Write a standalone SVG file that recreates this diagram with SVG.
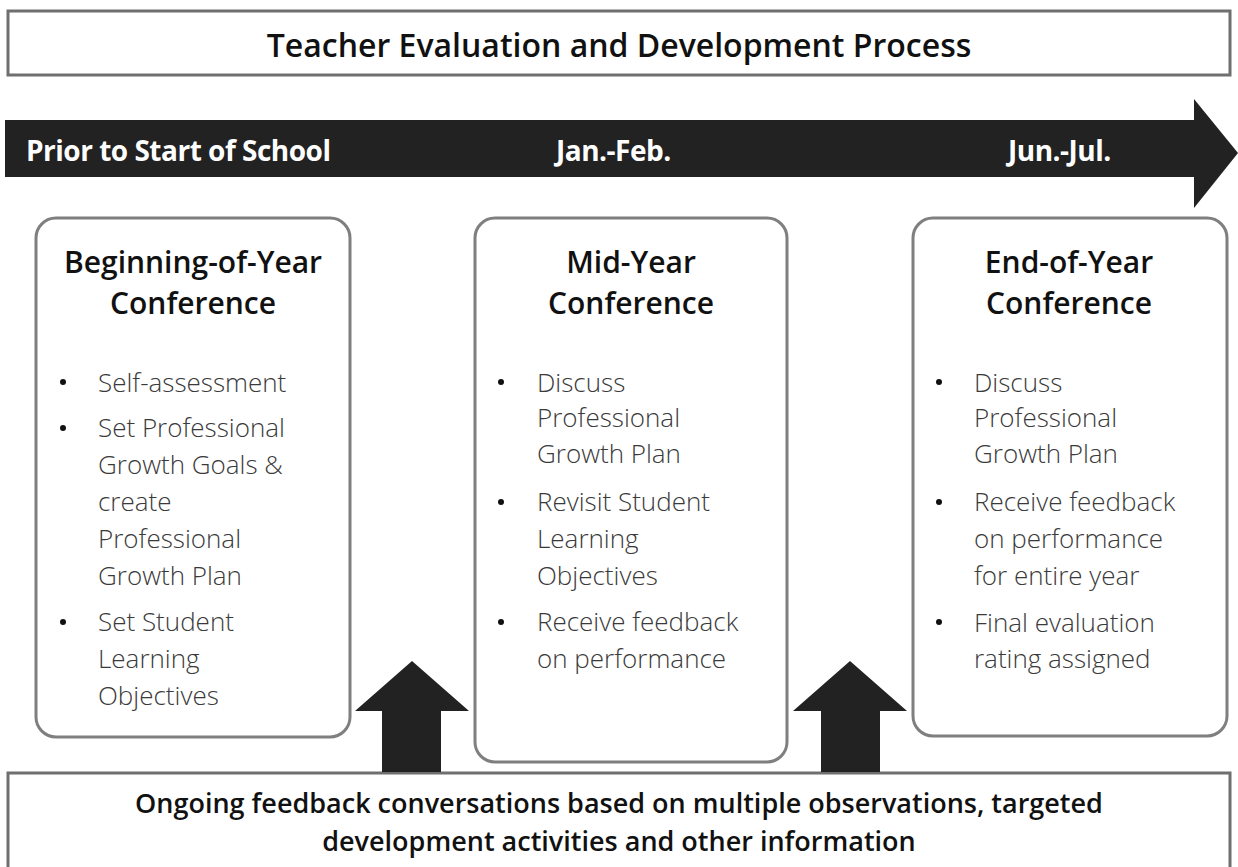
<svg xmlns="http://www.w3.org/2000/svg" width="1238" height="867" viewBox="0 0 1238 867">
<style>
.box{fill:#fff;stroke:#7f7f7f;stroke-width:3}
.frame{fill:#fff;stroke:#6f6f6f;stroke-width:3}
.title{font-family:"Open Sans","Liberation Sans",sans-serif;font-weight:600;font-size:32px;fill:#111;text-anchor:middle}
.head{font-family:"Open Sans","Liberation Sans",sans-serif;font-weight:600;font-size:30px;fill:#111;text-anchor:middle}
.foot{font-family:"Open Sans","Liberation Sans",sans-serif;font-weight:600;font-size:27px;fill:#111;text-anchor:middle}
.item{font-family:"Open Sans","Liberation Sans",sans-serif;font-weight:300;font-size:26px;fill:#3a3a3a}
.bul{fill:#111}
.tl{font-family:"Open Sans","Liberation Sans",sans-serif;font-weight:700;font-size:28px;fill:#fff;letter-spacing:-0.5px}
.arrow{fill:#222}
</style>
<rect width="1238" height="867" fill="#fff"/>
<g id="title">
<rect class="frame" x="8" y="11" width="1222" height="64"/>
<text class="title" x="619" y="57">Teacher Evaluation and Development Process</text>
</g>
<g id="timeline">
<polygon class="arrow" points="5,120 1194,120 1194,99 1238,153 1194,208 1194,177 5,177"/>
<text class="tl" x="26" y="161">Prior to Start of School</text>
<text class="tl" x="556" y="161">Jan.-Feb.</text>
<text class="tl" x="1008" y="161">Jun.-Jul.</text>
</g>
<g id="beginning">
<rect class="box" x="36" y="218" width="314" height="519" rx="20"/>
<text class="head" x="193" y="273">Beginning-of-Year</text>
<text class="head" x="193" y="314">Conference</text>
<g class="item">
<text x="98" y="392">Self-assessment</text>
<text x="98" y="437">Set Professional</text>
<text x="98" y="474">Growth Goals &amp;</text>
<text x="98" y="511">create</text>
<text x="98" y="548">Professional</text>
<text x="98" y="585">Growth Plan</text>
<text x="98" y="631">Set Student</text>
<text x="98" y="668">Learning</text>
<text x="98" y="705">Objectives</text>
</g>
<circle class="bul" cx="63" cy="382" r="3"/>
<circle class="bul" cx="63" cy="428" r="3"/>
<circle class="bul" cx="63" cy="622" r="3"/>
</g>
<g id="midyear">
<rect class="box" x="475" y="218" width="312" height="544" rx="20"/>
<text class="head" x="631" y="273">Mid-Year</text>
<text class="head" x="631" y="314">Conference</text>
<g class="item">
<text x="537" y="392">Discuss</text>
<text x="537" y="427">Professional</text>
<text x="537" y="463">Growth Plan</text>
<text x="537" y="511">Revisit Student</text>
<text x="537" y="548">Learning</text>
<text x="537" y="585">Objectives</text>
<text x="537" y="631">Receive feedback</text>
<text x="537" y="668">on performance</text>
</g>
<circle class="bul" cx="501" cy="382" r="3"/>
<circle class="bul" cx="501" cy="502" r="3"/>
<circle class="bul" cx="501" cy="622" r="3"/>
</g>
<g id="endyear">
<rect class="box" x="913" y="218" width="314" height="518" rx="20"/>
<text class="head" x="1069" y="273">End-of-Year</text>
<text class="head" x="1069" y="314">Conference</text>
<g class="item">
<text x="974" y="392">Discuss</text>
<text x="974" y="427">Professional</text>
<text x="974" y="463">Growth Plan</text>
<text x="974" y="511">Receive feedback</text>
<text x="974" y="548">on performance</text>
<text x="974" y="585">for entire year</text>
<text x="974" y="632">Final evaluation</text>
<text x="974" y="668">rating assigned</text>
</g>
<circle class="bul" cx="939" cy="382" r="3"/>
<circle class="bul" cx="939" cy="502" r="3"/>
<circle class="bul" cx="939" cy="622" r="3"/>
</g>
<g id="ongoing">
<rect class="frame" x="8" y="773" width="1222" height="105"/>
<text class="foot" x="619" y="813">Ongoing feedback conversations based on multiple observations, targeted</text>
<text class="foot" x="619" y="851">development activities and other information</text>
</g>
<g id="connectors">
<polygon class="arrow" points="382,772 382,711 355,711 412,661 469,711 441,711 441,772"/>
<polygon class="arrow" points="821,772 821,711 793,711 850,661 907,711 880,711 880,772"/>
</g>
</svg>
